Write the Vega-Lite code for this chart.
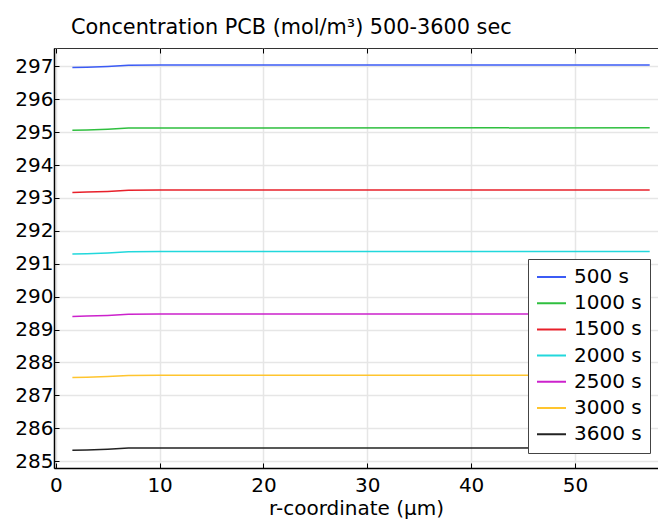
{
  "$schema": "https://vega.github.io/schema/vega-lite/v6.json",
  "width": 604,
  "height": 420,
  "autosize": {"type": "none"},
  "padding": {"left": 54, "top": 48, "right": 0, "bottom": 55},
  "background": "white",
  "config": {
    "font": "DejaVu Sans",
    "view": {"stroke": "#333333", "strokeWidth": 1},
    "axis": {
      "domainColor": "black",
      "domainWidth": 1.5,
      "tickColor": "black",
      "tickSize": -5,
      "tickWidth": 1,
      "labelFontSize": 20,
      "labelColor": "black",
      "labelFont": "DejaVu Sans",
      "gridColor": "#e6e6e6",
      "gridWidth": 1.5,
      "titleFont": "DejaVu Sans",
      "titleFontSize": 20,
      "titleFontWeight": "normal",
      "titleColor": "black"
    }
  },
  "title": {
    "text": "Concentration PCB (mol/m³) 500-3600 sec",
    "anchor": "start",
    "frame": "group",
    "dx": 17,
    "offset": 9,
    "fontSize": 20.8,
    "fontWeight": "normal",
    "color": "black",
    "font": "DejaVu Sans"
  },
  "data": {
    "values": [
      {"t": "500 s", "r": 1.6, "c": 296.97},
      {"t": "500 s", "r": 3, "c": 296.978},
      {"t": "500 s", "r": 5, "c": 297.0},
      {"t": "500 s", "r": 7, "c": 297.035},
      {"t": "500 s", "r": 10, "c": 297.04},
      {"t": "500 s", "r": 57.2, "c": 297.042},
      {"t": "1000 s", "r": 1.6, "c": 295.06},
      {"t": "1000 s", "r": 3, "c": 295.068},
      {"t": "1000 s", "r": 5, "c": 295.09},
      {"t": "1000 s", "r": 7, "c": 295.125},
      {"t": "1000 s", "r": 10, "c": 295.13},
      {"t": "1000 s", "r": 57.2, "c": 295.132},
      {"t": "1500 s", "r": 1.6, "c": 293.17},
      {"t": "1500 s", "r": 3, "c": 293.178},
      {"t": "1500 s", "r": 5, "c": 293.2},
      {"t": "1500 s", "r": 7, "c": 293.235},
      {"t": "1500 s", "r": 10, "c": 293.24},
      {"t": "1500 s", "r": 57.2, "c": 293.242},
      {"t": "2000 s", "r": 1.6, "c": 291.3},
      {"t": "2000 s", "r": 3, "c": 291.308},
      {"t": "2000 s", "r": 5, "c": 291.33},
      {"t": "2000 s", "r": 7, "c": 291.365},
      {"t": "2000 s", "r": 10, "c": 291.37},
      {"t": "2000 s", "r": 57.2, "c": 291.372},
      {"t": "2500 s", "r": 1.6, "c": 289.4},
      {"t": "2500 s", "r": 3, "c": 289.408},
      {"t": "2500 s", "r": 5, "c": 289.43},
      {"t": "2500 s", "r": 7, "c": 289.465},
      {"t": "2500 s", "r": 10, "c": 289.47},
      {"t": "2500 s", "r": 57.2, "c": 289.472},
      {"t": "3000 s", "r": 1.6, "c": 287.54},
      {"t": "3000 s", "r": 3, "c": 287.548},
      {"t": "3000 s", "r": 5, "c": 287.57},
      {"t": "3000 s", "r": 7, "c": 287.605},
      {"t": "3000 s", "r": 10, "c": 287.61},
      {"t": "3000 s", "r": 57.2, "c": 287.612},
      {"t": "3600 s", "r": 1.6, "c": 285.33},
      {"t": "3600 s", "r": 3, "c": 285.338},
      {"t": "3600 s", "r": 5, "c": 285.36},
      {"t": "3600 s", "r": 7, "c": 285.395},
      {"t": "3600 s", "r": 10, "c": 285.4},
      {"t": "3600 s", "r": 57.2, "c": 285.402}
    ]
  },
  "layer": [
    {
      "mark": {"type": "line", "strokeWidth": 1.5, "clip": true},
      "encoding": {
        "x": {
          "field": "r",
          "type": "quantitative",
          "scale": {"domain": [-0.17, 58], "nice": false, "zero": false},
          "axis": {"title": "r-coordinate (µm)", "values": [0, 10, 20, 30, 40, 50], "labelPadding": 12, "titlePadding": 3, "labelFlush": false}
        },
        "y": {
          "field": "c",
          "type": "quantitative",
          "scale": {"domain": [284.79, 297.56], "nice": false, "zero": false},
          "axis": {"title": null, "values": [285, 286, 287, 288, 289, 290, 291, 292, 293, 294, 295, 296, 297], "labelPadding": 6, "labelFlush": false}
        },
        "color": {
          "field": "t",
          "type": "nominal",
          "scale": {
            "domain": ["500 s", "1000 s", "1500 s", "2000 s", "2500 s", "3000 s", "3600 s"],
            "range": ["#3b5bf5", "#2fbf3f", "#e8202a", "#22d8dc", "#cc22cc", "#ffc52e", "#222222"]
          },
          "legend": {
            "title": null,
            "orient": "none",
            "legendX": 474,
            "legendY": 211,
            "padding": 8,
            "fillColor": "white",
            "strokeColor": "#444444",
            "symbolType": "stroke",
            "symbolSize": 841,
            "symbolStrokeWidth": 2,
            "clipHeight": 20,
            "rowPadding": 6.2,
            "labelOffset": 7,
            "labelFontSize": 20,
            "labelColor": "black",
            "labelFont": "DejaVu Sans"
          }
        }
      }
    },
    {
      "mark": {"type": "rule", "opacity": 0},
      "encoding": {
        "x": {
          "field": "r",
          "type": "quantitative",
          "axis": {"orient": "top", "labels": false, "title": null, "domain": false, "grid": false, "values": [0, 10, 20, 30, 40, 50]}
        }
      }
    }
  ],
  "resolve": {"axis": {"x": "independent"}}
}
